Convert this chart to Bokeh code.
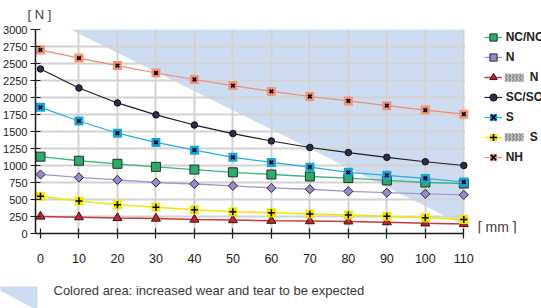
from bokeh.plotting import figure
from bokeh.layouts import column
from bokeh.models import (Range1d, FixedTicker, Legend, LegendItem, Label, Title,
                          BoxAnnotation)
from bokeh.core.properties import value
from bokeh.embed import file_html
from bokeh.resources import INLINE
import numpy as np

# ---- data -------------------------------------------------------------
stroke_mm = [0, 10, 20, 30, 40, 50, 60, 70, 80, 90, 100, 110]
nc_no = [1130, 1070, 1025, 980, 940, 900, 868, 838, 815, 780, 750, 735]
n_std = [868, 824, 789, 750, 728, 701, 670, 651, 620, 600, 583, 569]
n_light = [250, 240, 228, 220, 205, 197, 188, 182, 178, 167, 150, 140]
sc_so = [2420, 2140, 1920, 1745, 1595, 1470, 1360, 1265, 1190, 1120, 1055, 1000]
s_std = [1855, 1655, 1475, 1340, 1225, 1120, 1045, 975, 900, 855, 810, 757]
s_light = [549, 478, 424, 385, 348, 321, 304, 287, 272, 252, 230, 205]
nh = [2700, 2580, 2470, 2360, 2265, 2175, 2090, 2015, 1950, 1880, 1815, 1755]

series_names = ["NC/NO", "N", "\u2003\u2003N", "SC/SO", "S", "\u2003\u2003S", "NH"]

# colored area (increased wear)
wear_x = [7.8, 110, 110]
wear_y = [3000, 3000, 120]

x_ticks = stroke_mm
y_ticks = list(range(0, 3001, 250))

y_unit_text = "[ N ]"
x_unit_text = "[ mm ]"
footer_text = "Colored area: increased wear and tear to be expected"

# ---- main figure ------------------------------------------------------
PX_X = 425 / 110.0      # pixels per mm
PX_Y = 204 / 3000.0     # pixels per N
X0 = -5 / PX_X          # small room so the markers at 0 are not cut
p = figure(width=541, height=280,
           x_range=Range1d(X0, (541 - 38) / PX_X),
           y_range=Range1d(0, 3000),
           output_backend="svg", toolbar_location=None,
           min_border_left=33, min_border_right=0, min_border_top=29,
           min_border_bottom=47)
p.outline_line_color = None
p.frame_align = False

p.patch(wear_x, wear_y, fill_color="#cedcf2", line_color=None, level="image")

p.xaxis.ticker = FixedTicker(ticks=x_ticks)
p.yaxis.ticker = FixedTicker(ticks=y_ticks)
p.xaxis.bounds = (X0, 110)
p.xaxis.minor_tick_line_color = None
p.yaxis.minor_tick_line_color = None
for ax in (p.xaxis[0], p.yaxis[0]):
    ax.axis_line_color = "#1a1a1a"
    ax.axis_line_width = 1.5
    ax.major_tick_line_color = "#1a1a1a"
    ax.major_tick_line_width = 1.2
    ax.major_tick_in = 5
    ax.major_tick_out = 5
    ax.major_label_text_color = "#1a1a1a"
p.xaxis.major_label_text_font = "Liberation Sans Narrow, Liberation Sans"
p.xaxis.major_label_text_font_size = "12.5px"
p.xaxis.major_label_standoff = 15
p.yaxis.major_label_text_font = "Liberation Sans"
p.yaxis.major_label_text_font_size = "11px"
p.yaxis.major_label_standoff = 3

for g in (p.xgrid[0], p.ygrid[0]):
    g.grid_line_color = "#d2d2d2"
    g.grid_line_width = 2
p.xgrid.ticker = FixedTicker(ticks=x_ticks[1:])
p.ygrid.ticker = FixedTicker(ticks=y_ticks)
p.xgrid.bounds = (0, 110)
p.ygrid.bounds = (0, 3000)

# keep the grid inside 0..110 (white band drawn just above the grid)
p.add_layout(BoxAnnotation(left=110 + 1.2 / PX_X, fill_color="white", fill_alpha=1,
                           line_color=None, level="underlay"))

# ---- series -----------------------------------------------------------
items = []

def add_series(name, ys, line_color, line_width, marker, size, fill, outline,
               angle=0.0, over=None, over_size=5, over_width=1.8):
    rs = [p.line(stroke_mm, ys, line_color=line_color, line_width=line_width),
          p.scatter(stroke_mm, ys, marker=marker, size=size, angle=angle,
                    fill_color=fill, line_color=outline, line_width=1)]
    if over is not None:
        rs.append(p.scatter(stroke_mm, ys, marker=over, size=over_size,
                            line_color="black", line_width=over_width))
    items.append(LegendItem(label=name, renderers=rs))

add_series(series_names[0], nc_no, "#3cb878", 1.3, "square", 9, "#2eaa6a", "#1d3327")
add_series(series_names[1], n_std, "#a895d0", 1.3, "square", 6.5, "#9b87c9", "#2a2a3a",
           angle=np.pi / 4)
add_series(series_names[2], n_light, "#c8383d", 1.5, "triangle", 9, "#c0272d", "#3a1010")
add_series(series_names[3], sc_so, "#1e1e1e", 1.2, "circle", 6.5, "#2c2c50", "#111111")
add_series(series_names[4], s_std, "#22aee6", 1.2, "square", 9, "#14a5de", None,
           over="x")
add_series(series_names[5], s_light, "#f2e600", 1.5, "square", 9, "#f2e600", None,
           over="cross", over_size=7, over_width=1.5)
add_series(series_names[6], nh, "#f28b6e", 1.2, "square", 9, "#f59377", None,
           over="x")

legend = Legend(items=items, location=(448.7, 66.7), orientation="vertical",
                padding=0, spacing=2, margin=0, glyph_width=18, glyph_height=18,
                label_height=18, label_standoff=4,
                label_text_font="Liberation Sans", label_text_font_style="bold",
                label_text_font_size="12px", label_text_color="#222222",
                border_line_alpha=0, background_fill_alpha=0)
p.add_layout(legend)

# spring pictograms of the light N / light S entries
for top_px in (73.3, 132.7):
    p.add_layout(BoxAnnotation(left=(504 - 38) / PX_X, right=(523 - 38) / PX_X,
                               top=(233 - top_px) / PX_Y,
                               bottom=(233 - top_px - 8) / PX_Y,
                               fill_color="#c8c8c8", fill_alpha=1, line_color=None,
                               hatch_pattern="vertical_wave", hatch_color="#6a6a6a",
                               hatch_scale=3.5, hatch_weight=1))

# unit labels
p.add_layout(Label(x=(477 - 38) / PX_X, y=7 / PX_Y, text=x_unit_text,
                   text_font="Liberation Sans", text_font_size="14px",
                   text_color="#3c3c3c", text_baseline="middle"))
p.add_layout(Title(text=y_unit_text, align="left", offset=-8, standoff=12,
                   vertical_align="top", text_font="Liberation Sans",
                   text_font_size="13px", text_font_style="normal",
                   text_color="#3c3c3c"), "above")

# ---- footer strip -----------------------------------------------------
icon_x = [-8, 37, 37]
icon_y = [6, 6, 30]
f = figure(width=541, height=28, x_range=Range1d(0, 541), y_range=Range1d(28, 0),
           x_axis_type=None, y_axis_type=None, min_border=0,
           output_backend="svg", toolbar_location=None)
f.outline_line_color = None
f.frame_align = False
f.patch(icon_x, icon_y, fill_color="#cedcf2", line_color=None)
f.text(x=[53], y=[10], text=[footer_text], text_font=value("Liberation Sans"),
       text_font_size="13px", text_color="#3a3a3a", text_baseline="middle")

layout = column(p, f)
open("out.html", "w").write(file_html(layout, INLINE))
